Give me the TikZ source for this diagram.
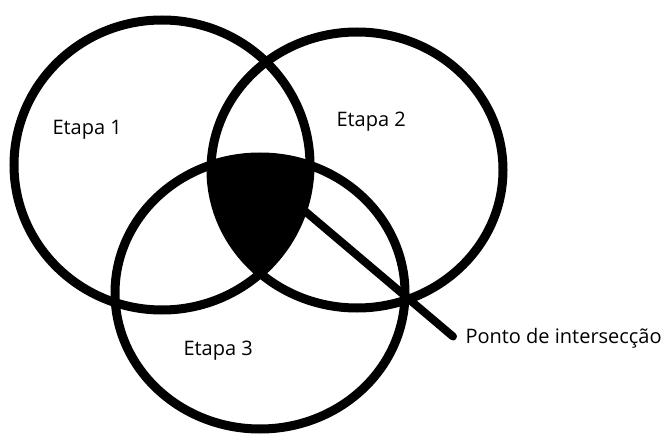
\documentclass[tikz,border=0pt]{standalone}
\usepackage{fontspec}
\setmainfont{Open Sans}
\begin{document}
\begin{tikzpicture}[x=1pt,y=-1pt,line width=9pt,
    etapa/.style={anchor=base west,inner sep=0pt,font=\fontsize{20}{20}\selectfont}]
  \useasboundingbox (0,0) rectangle (662,436);

  % stage centres (pixel grid of the sketch)
  \coordinate (c1) at (162,165);
  \coordinate (c2) at (357,170);
  \coordinate (c3) at (260,293);

  % common part of the three stages, filled black
  \begin{scope}
    \clip (c1) ellipse [x radius=148pt,y radius=145pt];
    \clip (c2) ellipse [x radius=146pt,y radius=138pt];
    \fill (c3) ellipse [x radius=145pt,y radius=136pt];
  \end{scope}

  % the three stages
  \draw (c1) ellipse [x radius=148pt,y radius=145pt];
  \draw (c2) ellipse [x radius=146pt,y radius=138pt];
  \draw (c3) ellipse [x radius=145pt,y radius=136pt];

  % labels
  \node[etapa] (e1) at (48,135) {Etapa 1};
  \node[etapa] (e2) at (332,127) {Etapa 2};
  \node[etapa] (e3) at (179,355) {Etapa 3};
  \node[etapa,inner xsep=8pt,text height=13pt,text depth=0pt] (ponto) at (453,343)
    {Ponto de intersecção};

  % pointer from the shaded part to its label
  \coordinate (inter) at (280,190);
  \draw[line width=8pt,line cap=round] (inter) -- (ponto.west);
\end{tikzpicture}
\end{document}
